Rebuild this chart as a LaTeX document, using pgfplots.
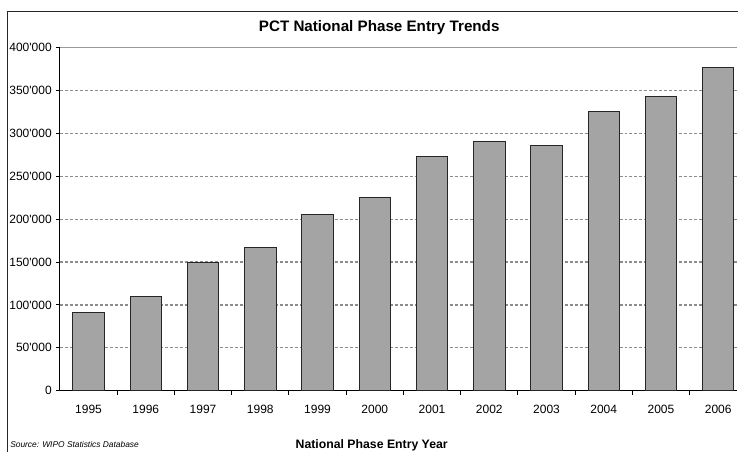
\documentclass[border=0pt]{standalone}
\usepackage{pgfplots}
\pgfplotsset{compat=1.18}
\usepackage{fontspec}
\setmainfont{Liberation Sans}
\definecolor{barfill}{HTML}{A4A4A4}
\definecolor{gridc}{HTML}{8C8C8C}
\begin{document}
\begin{tikzpicture}
\begin{scope}[x=0.75pt,y=0.75pt]
\useasboundingbox (0,0) rectangle (738,452);
\draw[black!85, line width=0.75pt] (8,-2) -- (8,440) -- (740,440);
\node[anchor=base, font=\bfseries\fontsize{11.4}{13}\selectfont] at (379.5,420) {PCT National Phase Entry Trends};
\node[anchor=base, font=\bfseries\fontsize{9.2}{11}\selectfont] at (372,3) {National Phase Entry Year};
\node[anchor=base west, inner sep=0pt, font=\itshape\fontsize{6.3}{7}\selectfont] at (10,4.5) {Source: WIPO Statistics Database};
\end{scope}
\begin{axis}[
  at={(45pt,45.75pt)}, anchor=south west,
  scale only axis, width=508.5pt, height=257.5pt,
  xmin=-0.5, xmax=11.335, ymin=0, ymax=400000,
  axis x line=bottom, axis y line=left,
  axis line style={-, black, line width=0.75pt},
  tick align=outside, major tick length=3pt,
  tick style={black, line width=0.75pt},
  xtick={0.5,1.5,...,10.5}, xticklabels={},
  extra x ticks={0,1,2,3,4,5,6,7,8,9,10,11},
  extra x tick labels={1995,1996,1997,1998,1999,2000,2001,2002,2003,2004,2005,2006},
  extra x tick style={major tick length=0pt, tick label style={anchor=base, yshift=-17.25pt, inner sep=0pt, font=\fontsize{9}{10}\selectfont}},
  ytick={0,50000,100000,150000,200000,250000,300000,350000},
  yticklabels={0,50\textquotesingle 000,100\textquotesingle 000,150\textquotesingle 000,200\textquotesingle 000,250\textquotesingle 000,300\textquotesingle 000,350\textquotesingle 000},
  extra y ticks={400000},
  extra y tick labels={400\textquotesingle 000},
  extra y tick style={grid=major, major grid style={solid, black!40, line width=0.9pt}},
  yticklabel style={inner sep=0pt, xshift=-3pt, font=\fontsize{9}{10}\selectfont},
  ymajorgrids,
  major grid style={gridc, line width=0.9pt, dash pattern=on 2.25pt off 1.5pt},
  scaled y ticks=false,
  clip=false,
]
\addplot[ybar, bar width=0.55, fill=barfill, draw=black!85, line width=0.75pt]
coordinates {
(0,91200) (1,109600) (2,150000) (3,166700) (4,205500) (5,225300)
(6,272700) (7,290000) (8,286000) (9,326000) (10,342500) (11,377000)
};
\end{axis}
\end{tikzpicture}
\end{document}
